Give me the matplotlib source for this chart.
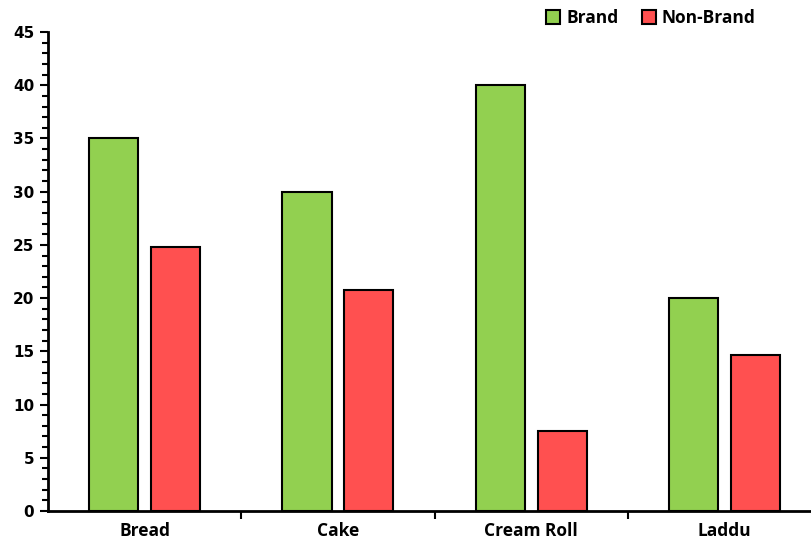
import matplotlib.pyplot as plt
import numpy as np
from matplotlib.ticker import MultipleLocator
from matplotlib.patches import Patch

categories = ["Bread", "Cake", "Cream Roll", "Laddu"]
brand = [35, 30, 40, 20]
non_brand = [24.8, 20.8, 7.5, 14.7]

fig = plt.figure(figsize=(8.12, 5.46), dpi=100)
ax = fig.add_axes([48 / 812, 35 / 546, 1 - 48 / 812, (511 - 32) / 546])

x = np.arange(len(categories))
w = 0.254
off = 0.16
ax.bar(x - off, brand, w, color="#92D050", edgecolor="black", linewidth=1.5, label="Brand")
ax.bar(x + off, non_brand, w, color="#FF5050", edgecolor="black", linewidth=1.5, label="Non-Brand")

ax.set_ylim(0, 45)
ax.set_xlim(-0.5, 3.453)
ax.yaxis.set_major_locator(MultipleLocator(5))
ax.yaxis.set_minor_locator(MultipleLocator(1))
ax.set_xticks(x)
ax.set_xticklabels(categories, fontfamily="Open Sans", fontweight="bold", fontsize=12.5)
ax.set_xticks(np.arange(0.5, 3.5, 1), minor=True)
ax.tick_params(axis="x", which="major", length=0, pad=8)
ax.tick_params(axis="x", which="minor", length=6, width=1.5, direction="out")
ax.tick_params(axis="y", which="major", length=6, width=1.5, direction="out", pad=4)
ax.tick_params(axis="y", which="minor", length=4, width=1.5, direction="out")
for lab in ax.get_yticklabels():
    lab.set_fontfamily("DejaVu Sans")
    lab.set_fontweight("bold")
    lab.set_fontsize(11)

for s in ["top", "right"]:
    ax.spines[s].set_visible(False)
for s in ["left", "bottom"]:
    ax.spines[s].set_linewidth(2)

handles = [Patch(facecolor="#92D050", edgecolor="black", linewidth=1.5, label="Brand"),
           Patch(facecolor="#FF5050", edgecolor="black", linewidth=1.5, label="Non-Brand")]
fig.legend(handles=handles, loc="center", bbox_to_anchor=(651 / 812, 1 - 18 / 546),
           ncol=2, frameon=False, handlelength=0.8, handleheight=0.8, handletextpad=0.35,
           columnspacing=1.35, prop={"family": "Open Sans", "weight": "bold", "size": 12.5})

fig.savefig("out.png", dpi=100)
